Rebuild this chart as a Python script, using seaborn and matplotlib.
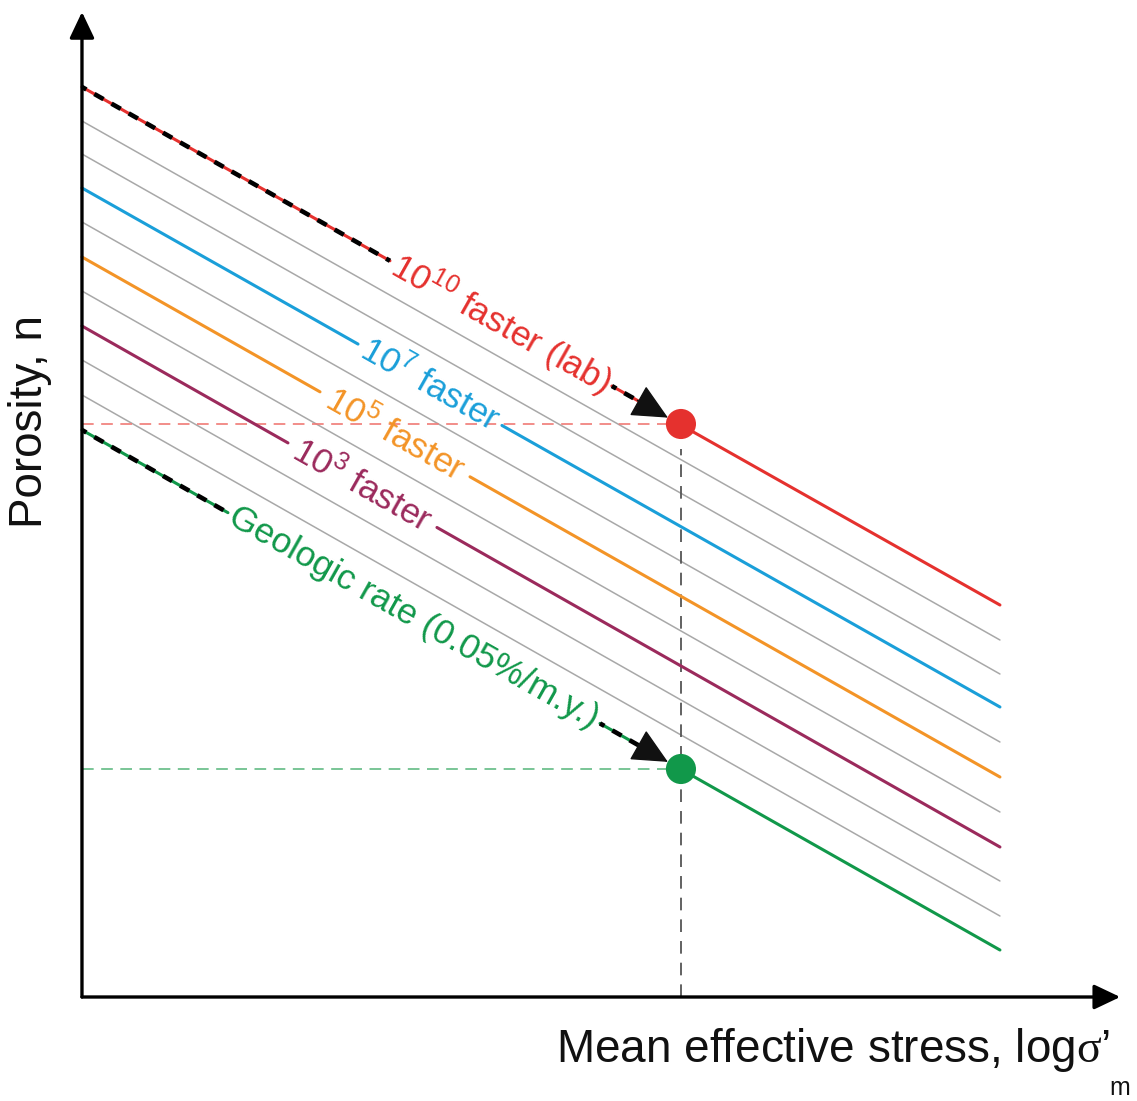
import numpy as np
import pandas as pd
import matplotlib
matplotlib.use("Agg")
import matplotlib.pyplot as plt
import seaborn as sns

# ---- data (arbitrary units: x = log mean effective stress, y = porosity) ----
x_start, x_end = 0.0, 10.0
porosity_start = [0.910, 0.876, 0.843, 0.809, 0.775, 0.740, 0.706, 0.671, 0.637, 0.602, 0.567]
porosity_end = [0.392, 0.357, 0.323, 0.290, 0.255, 0.220, 0.185, 0.150, 0.116, 0.081, 0.047]
line_kind = ["red", "gray", "gray", "blue", "gray", "orange", "gray", "purple", "gray", "gray", "green"]

rate_labels = {
    "red": r"$\mathregular{10^{10}}$ faster (lab)",
    "blue": r"$\mathregular{10^{7}}$ faster",
    "orange": r"$\mathregular{10^{5}}$ faster",
    "purple": r"$\mathregular{10^{3}}$ faster",
    "green": "Geologic rate (0.05%/m.y.)",
}
# where each label interrupts its curve (x range)
label_gap = {
    "red": (3.355, 5.773),
    "blue": (3.007, 4.575),
    "orange": (2.593, 4.227),
    "purple": (2.244, 3.867),
    "green": (1.590, 5.643),
}

stress_point = 6.525
point_porosity = {"red": 0.573, "green": 0.228}

colors = {
    "red": "#e5312e",
    "blue": "#1a9fd9",
    "orange": "#f39427",
    "purple": "#9b2a5c",
    "green": "#11984a",
    "gray": "#a8a8a8",
}
light = {"red": "#f07a76", "green": "#62bb84"}

sns.set_theme(style="white")
plt.rcParams["font.family"] = ["Liberation Sans", "DejaVu Sans"]
plt.rcParams["mathtext.fontset"] = "custom"
plt.rcParams["mathtext.rm"] = "Liberation Serif"

fig = plt.figure(figsize=(11.37, 11.01), dpi=100)
ax = fig.add_axes([0, 0, 1, 1])
ax.set_xlim(-0.893, 11.493)
ax.set_ylim(-0.104, 0.997)
ax.axis("off")


def on_line(i, x):
    y0, y1 = porosity_start[i], porosity_end[i]
    return y0 + (y1 - y0) * (x - x_start) / (x_end - x_start)


def seg(i, xa, xb, **kw):
    sns.lineplot(x=[xa, xb], y=[on_line(i, xa), on_line(i, xb)], ax=ax,
                 sort=False, **kw)


# screen angle of the curves
p0 = ax.transData.transform((x_start, porosity_start[0]))
p1 = ax.transData.transform((x_end, porosity_end[0]))
angle = np.degrees(np.arctan2(p1[1] - p0[1], p1[0] - p0[0]))

# reference dashed lines
for kind in ["red", "green"]:
    ax.plot([0, stress_point], [point_porosity[kind]] * 2, color=light[kind],
            lw=1.2, ls=(0, (7, 4.5)), zorder=2)
ax.plot([stress_point, stress_point], [0, 0.548], color="#555555", lw=1.3,
        ls=(0, (7, 5)), zorder=2)

# gray curves
for i, kind in enumerate(line_kind):
    if kind == "gray":
        seg(i, x_start, x_end, color=colors["gray"], lw=1.1, zorder=1)

# coloured curves
tip_x, base_x = 6.383, 6.10
for i, kind in enumerate(line_kind):
    if kind == "gray":
        continue
    c = colors[kind]
    g0, g1 = label_gap[kind]
    if kind in ("red", "green"):
        for xa, xb in [(x_start, g0), (g1, base_x)]:
            seg(i, xa, xb, color=c, lw=2.2, zorder=3)
            ax.plot([xa, xb], [on_line(i, xa), on_line(i, xb)], color="black",
                    lw=3.3, ls=(1.2, (2.3, 2.0)), zorder=4)
        ax.annotate("", xy=(tip_x, on_line(i, tip_x)),
                    xytext=(base_x - 0.05, on_line(i, base_x - 0.05)),
                    arrowprops=dict(arrowstyle="-|>,head_length=1.15,head_width=0.55",
                                    mutation_scale=20, color="#111111", lw=1,
                                    shrinkA=0, shrinkB=0), zorder=5)
        seg(i, stress_point, x_end, color=c, lw=2.2, zorder=3)
        sns.scatterplot(x=[stress_point], y=[point_porosity[kind]], ax=ax,
                        s=470, color=c, edgecolor="none", zorder=6)
    else:
        seg(i, x_start, g0, color=c, lw=2.2, zorder=3)
        seg(i, g1, x_end, color=c, lw=2.2, zorder=3)
    xm = (g0 + g1) / 2
    ax.text(xm, on_line(i, xm), rate_labels[kind], color=c, fontsize=25.5,
            rotation=angle, rotation_mode="anchor", ha="center", va="center",
            zorder=5)

# axes with arrows
for tip in [(11.31, 0), (0, 0.985)]:
    ax.annotate("", xy=tip, xytext=(0, 0),
                arrowprops=dict(arrowstyle="-|>,head_length=0.8,head_width=0.38",
                                mutation_scale=20, color="black", lw=2.4,
                                shrinkA=0, shrinkB=0), zorder=7)

ax.text(11.2, -0.065, r"Mean effective stress, log$\mathrm{\sigma}$’",
        fontsize=33, ha="right", va="baseline", color="#111111")
ax.text(11.3, -0.098, "m", fontsize=18, ha="center", va="baseline", color="#111111")
ax.text(-0.565, 0.576, "Porosity, n", fontsize=33, rotation=90,
        ha="center", va="center", color="#111111")

fig.savefig("out.png", dpi=100)
